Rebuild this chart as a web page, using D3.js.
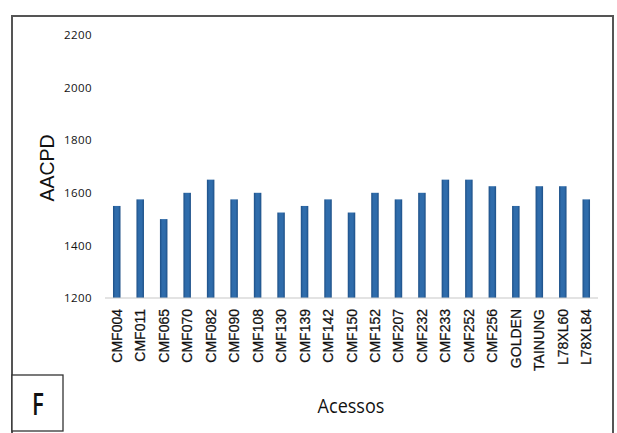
<!DOCTYPE html>
<html>
<head>
<meta charset="utf-8">
<script src="https://cdn.jsdelivr.net/npm/d3@7"></script>
<style>
  html, body { margin: 0; padding: 0; background: #fff; }
  svg { display: block; }
</style>
</head>
<body>
<svg id="chart" width="617" height="433"></svg>
<script>
// Accessions and their AACPD values
const categories = ["CMF004","CMF011","CMF065","CMF070","CMF082","CMF090","CMF108","CMF130","CMF139","CMF142","CMF150","CMF152","CMF207","CMF232","CMF233","CMF252","CMF256","GOLDEN","TAINUNG","L78XL60","L78XL84"];
const aacpd = [1550,1575,1500,1600,1650,1575,1600,1525,1550,1575,1525,1600,1575,1600,1650,1650,1625,1550,1625,1625,1575];
const yTicks = [1200,1400,1600,1800,2000,2200];

const svg = d3.select("#chart");

// plot area
const plot = { left: 105, right: 598, top: 35, bottom: 298 };

const x = d3.scaleBand().domain(categories).range([plot.left, plot.right]).paddingInner(0.68).paddingOuter(0.34);
const y = d3.scaleLinear().domain([1200, 2200]).range([plot.bottom, plot.top]);

// outer frame
svg.append("rect")
  .attr("x", 12).attr("y", 16)
  .attr("width", 601).attr("height", 430)
  .attr("fill", "none").attr("stroke", "#555").attr("stroke-width", 2);

// gradient for bars
const defs = svg.append("defs");
const grad = defs.append("linearGradient").attr("id", "barGrad").attr("x1", "0").attr("x2", "1").attr("y1", "0").attr("y2", "0");
grad.append("stop").attr("offset", "0%").attr("stop-color", "#1d4f86");
grad.append("stop").attr("offset", "30%").attr("stop-color", "#2f6cab");
grad.append("stop").attr("offset", "70%").attr("stop-color", "#2f6cab");
grad.append("stop").attr("offset", "100%").attr("stop-color", "#1d4f86");

// bars
svg.append("g").selectAll("rect")
  .data(categories.map((c, i) => ({ c, v: aacpd[i] })))
  .join("rect")
  .attr("x", d => x(d.c))
  .attr("width", x.bandwidth())
  .attr("y", d => y(d.v))
  .attr("height", d => y(1200) - y(d.v))
  .attr("fill", "url(#barGrad)");

// category axis
const xAxis = svg.append("g")
  .attr("transform", `translate(0,${plot.bottom})`)
  .call(d3.axisBottom(x).tickSize(0).tickPadding(0));
xAxis.select(".domain").attr("stroke", "#c8c8c8").attr("stroke-width", 1.2)
  .attr("d", `M${plot.left},0H${plot.right}`);
xAxis.selectAll("text")
  .attr("transform", "rotate(-90)")
  .attr("x", -11).attr("y", 0).attr("dy", "0.36em")
  .attr("text-anchor", "end")
  .attr("font-family", "Liberation Sans, Arial, sans-serif")
  .attr("font-size", 14)
  .attr("fill", "#111")
  .attr("stroke", "#111")
  .attr("stroke-width", 0.25);

// value axis (labels only)
const yAxis = svg.append("g")
  .attr("transform", `translate(92,0)`)
  .call(d3.axisLeft(y).tickValues(yTicks).tickSize(0).tickPadding(0).tickFormat(d3.format("d")));
yAxis.select(".domain").remove();
yAxis.selectAll("text")
  .attr("font-family", "Open Sans, sans-serif")
  .attr("font-size", 11.5)
  .attr("letter-spacing", "0.4px")
  .attr("fill", "#111");

// axis titles
svg.append("text")
  .attr("transform", "translate(54,168) rotate(-90)")
  .attr("text-anchor", "middle")
  .attr("font-family", "Liberation Sans, Arial, sans-serif")
  .attr("font-size", 19.5)
  .attr("fill", "#111")
  .text("AACPD");

svg.append("text")
  .attr("transform", "translate(351,413) scale(0.95,1.08)")
  .attr("text-anchor", "middle")
  .attr("font-family", "Open Sans, sans-serif")
  .attr("font-size", 19)
  .attr("fill", "#111")
  .text("Acessos");

// panel letter
svg.append("rect")
  .attr("x", 12).attr("y", 375).attr("width", 51).attr("height", 56)
  .attr("fill", "#fff").attr("stroke", "#333").attr("stroke-width", 1.3);
svg.append("text")
  .attr("transform", "translate(38,415) scale(0.72,1)")
  .attr("text-anchor", "middle")
  .attr("font-family", "Open Sans, sans-serif")
  .attr("font-size", 31)
  .attr("font-weight", 600)
  .attr("fill", "#111")
  .text("F");
</script>
</body>
</html>
